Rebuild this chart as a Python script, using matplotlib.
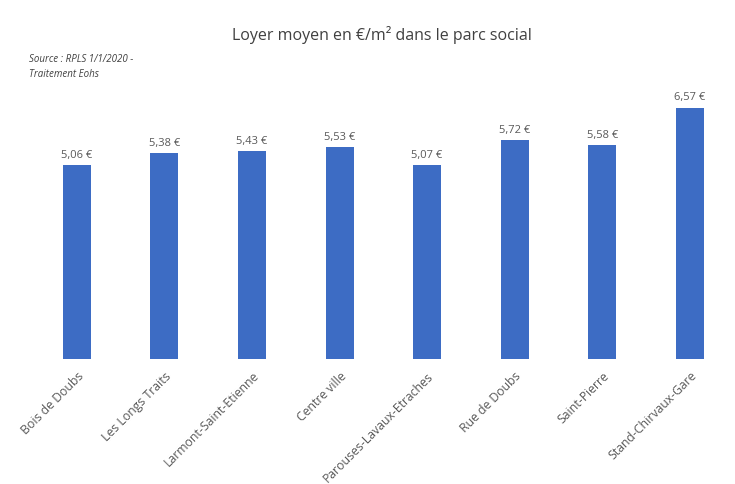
import numpy as np
import matplotlib.pyplot as plt

# Donnees
quartiers = ['Bois de Doubs', 'Les Longs Traits', 'Larmont-Saint-Etienne', 'Centre ville',
             'Parouses-Lavaux-Etraches', 'Rue de Doubs', 'Saint-Pierre', 'Stand-Chirvaux-Gare']
loyers = [5.06, 5.38, 5.43, 5.53, 5.07, 5.72, 5.58, 6.57]
etiquettes = ['5,06 €', '5,38 €', '5,43 €', '5,53 €', '5,07 €', '5,72 €', '5,58 €', '6,57 €']

plt.rcParams['font.family'] = ['Open Sans', 'DejaVu Sans']

fig = plt.figure(figsize=(7.35, 4.85), dpi=100)
ax = fig.add_axes([0.045, 0.258, 0.953, 0.552])

x = np.arange(len(quartiers))
bars = ax.bar(x, loyers, width=0.32, color='#3D6CC4')

for b, txt in zip(bars, etiquettes):
    ax.text(b.get_x() + b.get_width() / 2, b.get_height() + 0.14, txt,
            ha='center', va='bottom', fontsize=8, color='#595959')

ax.set_xlim(-0.5, len(quartiers) - 0.5)
ax.set_ylim(0, 7)
ax.set_xticks(x)
ax.set_xticklabels(quartiers, rotation=45, ha='right', rotation_mode='anchor',
                   fontsize=8.8, color='#595959')
ax.tick_params(axis='x', length=0, pad=7)
ax.set_yticks([])
for s in ax.spines.values():
    s.set_visible(False)

fig.text(0.52, 0.927, 'Loyer moyen en €/m² dans le parc social',
         ha='center', va='center', fontsize=11.5, color='#404040')
fig.text(0.04, 0.862, 'Source : RPLS 1/1/2020 -\nTraitement Eohs',
         ha='left', va='center', fontsize=7, style='italic', color='#404040',
         linespacing=1.5)

fig.savefig('out.png')
